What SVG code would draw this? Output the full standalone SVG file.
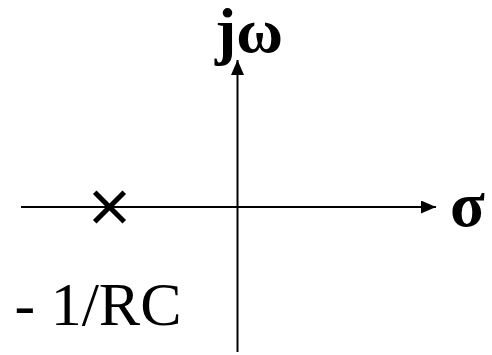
<svg xmlns="http://www.w3.org/2000/svg" width="492" height="355" viewBox="0 0 492 355">
<style>
.ax{stroke:#000;stroke-width:2;fill:none}
.lbl{font-family:"Liberation Serif","Times New Roman",serif;fill:#000}
.b{font-weight:bold}
</style>
<defs>
<marker id="arr" viewBox="0 0 15 13" refX="15" refY="6.5" markerWidth="15" markerHeight="13" orient="auto" markerUnits="userSpaceOnUse">
<path d="M0,0 L15,6.5 L0,13 z" fill="#000"/>
</marker>
</defs>
<rect width="492" height="355" fill="#fff"/>
<g id="connectors">
<line class="ax" x1="21" y1="207" x2="436" y2="207" marker-end="url(#arr)"/>
<line class="ax" x1="237.5" y1="352" x2="237.5" y2="60" marker-end="url(#arr)"/>
</g>
<g id="pole">
<path d="M96.5,194 L122.5,220 M122.5,194 L96.5,220" stroke="#000" stroke-width="5" stroke-linecap="square"/>
</g>
<g id="label-jw"><text class="lbl b" x="215" y="52" font-size="64">jω</text></g>
<g id="label-sigma"><text class="lbl b" x="450" y="226" font-size="64">σ</text></g>
<g id="label-pole"><text class="lbl" x="14.5" y="325" font-size="62">- 1/RC</text></g>
</svg>
